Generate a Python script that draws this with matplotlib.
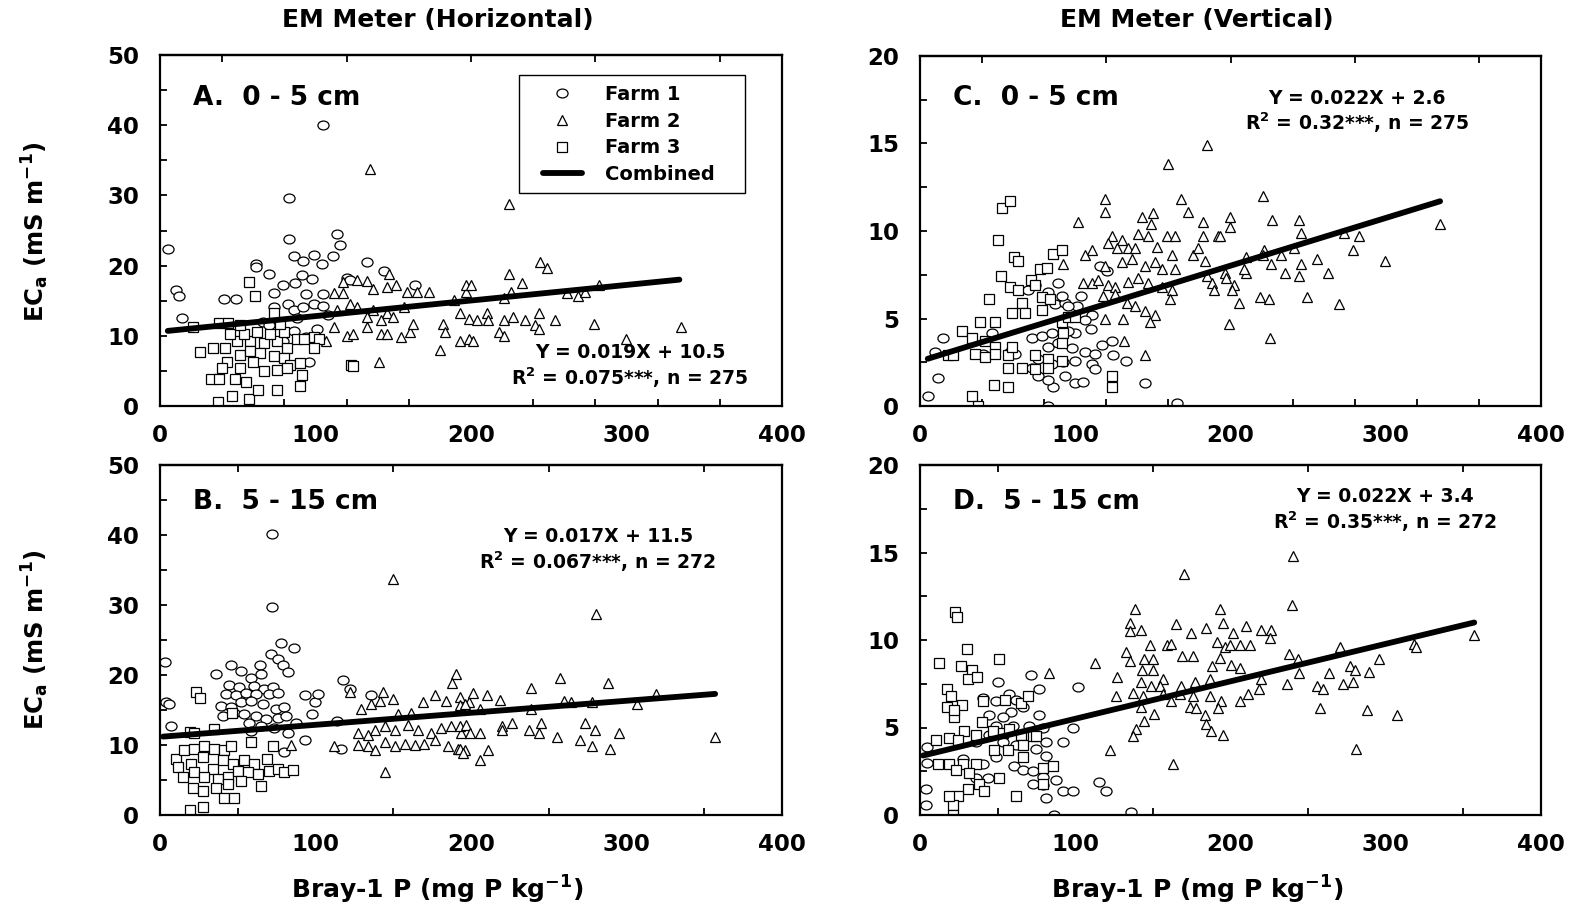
import matplotlib
matplotlib.use("Agg")
import matplotlib.pyplot as plt
from matplotlib.path import Path
from matplotlib.patches import Rectangle
import numpy as np

plt.rcParams['font.family'] = ['DejaVu Sans']
plt.rcParams['font.weight'] = 'bold'
plt.rcParams['mathtext.fontset'] = 'custom'
plt.rcParams['mathtext.rm'] = 'DejaVu Sans:bold'
plt.rcParams['mathtext.it'] = 'DejaVu Sans:bold'
plt.rcParams['mathtext.default'] = 'rm'

# ---- Panel A : horizontal, 0-5 cm ----
a_f1_x = [5, 10, 12, 14, 105, 83, 83, 114, 116, 111, 86, 92, 99, 104, 62, 62, 70, 133, 144, 41, 49, 91, 98,
          87, 79, 73, 94, 105, 120, 122, 164, 82, 86, 92, 99, 73, 105, 86, 94, 96, 79, 66, 70, 88, 101, 108]
a_f1_y = [22.3, 16.5, 15.6, 12.5, 40, 29.7, 23.8, 24.5, 23, 21.4, 21.4, 20.6, 21.5, 20.2, 20.2, 19.8, 18.8,
          20.5, 19.3, 15.3, 15.3, 18.6, 18.1, 17.5, 17.2, 16.1, 15.9, 16, 18.3, 18, 17.3, 14.6, 13.7, 14.1,
          14.6, 14.1, 14.2, 10.7, 9.8, 6.3, 9.3, 12, 11.5, 12.5, 11, 13]
a_f2_x = [135, 147, 118, 127, 133, 112, 118, 122, 137, 146, 152, 159, 165, 173, 182, 183, 180, 189, 196.5,
          133, 142, 146, 155, 161, 120, 124, 107, 112, 141, 137, 146, 157, 163, 127, 133, 142, 150, 114,
          224.6, 244.3, 249, 224.6, 233, 226, 221, 197, 200, 193, 199, 204, 210, 211, 221, 227, 235, 241,
          244, 244, 254, 218, 221, 199, 201, 193, 262, 269, 273, 282, 279, 300, 335]
a_f2_y = [33.7, 18.8, 17.6, 18, 17.8, 16.1, 16.1, 14.6, 16.6, 17, 17.3, 16.3, 16.3, 16.3, 11.7, 10.5, 8,
          15.1, 16.3, 11.2, 10.2, 10.2, 9.8, 10.5, 10, 10.2, 9.3, 11.2, 6.3, 13.7, 13.2, 14.1, 11.7, 14.1,
          12.7, 12.2, 12.7, 13.7,
          28.8, 20.5, 19.6, 18.8, 17.5, 16.2, 15.4, 17.2, 17.2, 13.2, 12.4, 12.2, 13.2, 12.2, 12.2, 12.7,
          12.2, 11.5, 13.2, 11, 12.2, 10.5, 10, 9.5, 9.3, 9.3, 16.1, 15.6, 16.3, 17.3, 11.7, 9.5, 11.2]
a_f3_x = [57, 61, 73, 21, 38, 44, 26, 33, 38, 37, 46, 57, 48, 55, 63, 75, 90, 91, 123, 124, 34.4, 41.9, 49.4,
          58, 66.6, 75.2, 81.6, 88, 92.4, 98.8, 102, 43, 51.5, 58, 64.4, 73, 79.5, 83.8, 90.2, 60, 66.6, 75.2,
          39.7, 51.5, 81.6, 45, 53.7, 62.3, 70.9, 79.5, 98.8, 51.5, 77.3]
a_f3_y = [17.6, 15.6, 13.2, 11.2, 11.8, 11.8, 7.7, 3.9, 3.8, 0.6, 1.4, 1, 3.9, 3.4, 2.3, 2.3, 2.9, 4.4, 5.9,
          5.7, 8.3, 8.3, 9.3, 9.3, 9.0, 9.3, 8.3, 9.5, 9.5, 9.8, 9.5, 6.3, 7.3, 7.8, 7.6, 7.1, 6.8, 5.9, 6.1,
          6.3, 5.0, 5.1, 5.4, 5.4, 5.4, 10.2, 10.2, 10.5, 10.2, 10.5, 8.3, 11.5, 11.7]
a_fit_x = [5, 334]
a_fit_y = [10.7, 18.0]

# ---- Panel B : horizontal, 5-15 cm ----
b_f1_x = [72, 72, 78, 86, 71.5, 75.8, 79, 82, 3, 45.7, 36, 52, 58.6, 64.6, 65, 117.6, 44.6, 51, 60.7, 67,
          72.5, 42.5, 49, 55, 61.8, 70, 75.8, 39, 45.7, 52, 58.6, 66, 74.7, 80, 40.3, 47.9, 54.3, 61.8, 68.2,
          75.8, 81, 93, 99.4, 101.5, 98, 87.5, 93, 114, 116.5, 3.9, 6, 7, 57.5, 65, 73.6, 82, 80, 58.6, 122, 136]
b_f1_y = [40.1, 29.7, 24.6, 23.8, 23, 22.3, 21.4, 20.5, 21.9, 21.5, 20.2, 20.6, 19.6, 21.4, 20.2, 19.3, 18.6,
          18.3, 18.5, 18, 18.3, 17.3, 17.1, 17.5, 17.3, 17.3, 17.5, 15.6, 15.4, 16.1, 16.3, 15.9, 15.1, 15.4,
          14.1, 14.6, 14.4, 14.1, 13.7, 13.9, 14.1, 17.1, 16.1, 17.3, 14.4, 13.2, 10.7, 13.4, 9.5, 16.1, 15.9,
          12.7, 13.2, 12.7, 12.4, 11.7, 9, 12, 18, 17.1]
b_f2_x = [149.8, 122.5, 111.8, 84, 144.4, 190.5, 187.8, 129.4, 135.8, 141.2, 143.3, 149.8, 153, 161.6, 169,
          176.6, 184, 192.7, 199, 127.3, 133.7, 138, 144.4, 150.9, 159.4, 165.9, 174.5, 181, 187.3, 193.8,
          127.3, 133.7, 138, 144.4, 150.9, 157.3, 163.7, 170, 176.6, 185.2, 191.6, 196,
          280.3, 257, 288, 238.3, 201.5, 210, 218.6, 193, 196, 205.8, 238.6, 260, 264, 277.8, 306.9, 318.7,
          193, 197, 199.3, 205.8, 220, 226.5, 220, 237.4, 244.8, 243.7, 255, 273, 280, 295, 270, 278, 289.6,
          193, 195, 211, 206, 357]
b_f2_y = [33.7, 17.6, 9.9, 10, 6.1, 20.2, 18.8, 15.2, 15.9, 16.3, 17.6, 16.6, 14.4, 14.6, 16.1, 17.1, 16.3,
          16.8, 16.1, 11.7, 11.5, 12.2, 12.7, 12.2, 12.9, 12.2, 11.7, 12.4, 12.7, 11.7, 10, 9.8, 9.3, 10.5,
          9.8, 10.2, 10, 10.2, 10.7, 9.8, 9.5, 9.3,
          28.7, 19.6, 18.8, 18.1, 17.5, 17.2, 16.5, 15.7, 15.9, 15.1, 15.1, 16.3, 16.2, 16.1, 15.9, 17.3,
          12.7, 12.9, 11.7, 11.7, 12.7, 13.2, 12.2, 12.2, 13.2, 11.7, 11.2, 13.2, 12.2, 11.7, 10.7, 9.9, 9.5,
          9.5, 8.8, 9.3, 7.9, 11.1]
b_f3_x = [23.2, 26, 46, 35, 19, 22, 58.6, 72.5, 69, 10.3, 15.7, 22, 28.5, 35, 41.4, 45.7, 11.4, 20, 27.5,
          33.9, 40.3, 46.8, 54.3, 60.7, 14.6, 22.1, 28.5, 37.1, 43.6, 50, 56.4, 62.9, 70.4, 75.8, 80, 85.4,
          21, 27.5, 36, 43.6, 52, 65, 41.4, 47.9, 19.5, 27.5]
b_f3_y = [17.6, 16.7, 14.6, 12.3, 11.8, 11.7, 10.5, 9.8, 8, 8, 9.3, 9.5, 9.8, 9.5, 9.3, 9.8, 6.8, 7.3, 8.3,
          6.6, 7.8, 7.3, 7.8, 7.3, 5.4, 6.1, 5.4, 5.1, 5.4, 6.3, 6.1, 5.9, 6.3, 6.6, 6.1, 6.4, 3.9, 3.4, 3.9,
          4.4, 4.9, 4.1, 2.4, 2.5, 0.7, 1.2]
b_fit_x = [2, 357]
b_fit_y = [11.2, 17.3]

# ---- Panel C : vertical, 0-5 cm ----
c_f1_x = [5.4, 11.4, 9.6, 15, 40.8, 46.2, 58, 61.2, 69.8, 74, 89, 82.7, 87, 93.4, 101, 104, 116, 120.3,
          110.6, 106, 110, 99.9, 95.6, 72, 78.4, 84.8, 82.7, 89, 97.7, 106.3, 76.2, 84.8, 92.4, 99.9, 112.7,
          117, 123.5, 124.6, 110.6, 112.7, 72, 76.2, 85.9, 82.7, 93.4, 99.9, 105.2, 133, 145, 82.7, 165.4,
          95.6, 91.3]
c_f1_y = [0.6, 1.6, 3.1, 3.9, 3, 4.2, 3.1, 3, 6.6, 6.9, 7, 6.5, 5.8, 5.9, 5.7, 6.3, 8, 7.7, 5.2, 4.9, 4.4,
          4.2, 4.3, 3.9, 4, 4.2, 3.4, 3.6, 3.3, 3.1, 2.7, 2.4, 2.5, 2.6, 3, 3.5, 3.7, 2.9, 2.4, 2.1, 2.2, 1.7,
          1.1, 1.5, 1.7, 1.3, 1.4, 2.6, 1.3, 0, 0.2, 5.7, 6.3]
c_f2_x = [184.7, 160, 119.2, 119.2, 168, 101.6, 142.8, 150.3, 172.9, 148.8, 182.6, 123.5, 130, 140.7, 147.1,
          158.9, 164.3, 182.6, 192.2, 110.6, 121.3, 126.7, 134.2, 138.5, 152.5, 162.2, 176.1, 179.3, 92.4,
          106.3, 119.2, 130, 136.4, 145, 151.4, 155.7, 164.3, 183.6, 184.7, 105.2, 110.6, 114.9, 121.3, 125.6,
          134.2, 140.7, 147.1, 155.7, 162.2, 118.1, 125.6, 133.2, 138.5, 145, 151.4, 161.1, 119.2, 131, 148.2,
          131.7, 145, 187.9, 196.5,
          220.8, 199.8, 199.8, 193, 226.8, 243.9, 245.4, 210, 221.9, 220.8, 232.6, 241.2, 273.3, 282.5, 279,
          334.8, 299.7, 255.5, 245.4, 262.6, 226.1, 235.4, 243.9, 210, 209, 197.3, 202, 189.2, 200.9, 205.2,
          219.1, 225.1, 249, 270, 198.9, 225.5]
c_f2_y = [14.9, 13.8, 11.8, 11.1, 11.8, 10.5, 10.8, 11, 11.1, 10.4, 10.5, 9.7, 9.5, 9.8, 9.7, 9.7, 9.7, 9.7,
          9.7, 8.9, 9.3, 9, 9, 9, 9.1, 8.6, 8.6, 9, 8.1, 8.6, 8, 8.2, 8.4, 8, 8.2, 7.8, 7.8, 8.3, 7.4, 7, 7,
          7.2, 6.9, 6.8, 7.1, 7.3, 7, 6.8, 6.6, 6.3, 6.4, 5.9, 5.7, 5.4, 5.2, 6.1, 5, 5, 4.8, 3.7, 2.9, 7, 7.6,
          12, 10.8, 10.2, 9.7, 10.6, 10.6, 9.9, 8.5, 8.9, 8.6, 8.6, 9, 9.9, 9.7, 8.9, 10.4, 8.3, 8.4, 8.1,
          7.6, 8.1, 7.6, 7.4, 7.6, 7.8, 7.3, 6.9, 6.6, 6.6, 5.9, 6.2, 6.1, 6.2, 5.8, 4.7, 3.9]
c_f3_x = [52.6, 58, 50.5, 60.8, 63.4, 52.2, 85.5, 91.3, 71.5, 74, 77.3, 81.6, 44.5, 38.7, 48.3, 26.8, 33.7,
          41.9, 48.3, 58, 63.4, 65.5, 59, 67.7, 78.4, 83.8, 78.4, 91.3, 95.6, 99.9, 92.4, 91.3, 35.4, 41.9,
          48.3, 57, 59, 74, 82.7, 91.3, 57, 65.5, 47.9, 57, 33.3, 37.2, 123.5, 123.5, 18.3, 21.5, 74, 82.7]
c_f3_y = [11.3, 11.7, 9.5, 8.5, 8.3, 7.4, 8.7, 8.9, 7.2, 6.9, 7.8, 7.9, 6.1, 4.8, 4.8, 4.3, 3.9, 3.7, 3.4,
          6.8, 6.6, 5.9, 5.3, 5.3, 6.2, 6.1, 5.5, 4.8, 5.1, 5.1, 4.2, 3.6, 3, 2.8, 3, 2.9, 3.4, 2.9, 2.7, 2.6,
          2.2, 2.2, 1.2, 1.1, 0.6, 0, 1.7, 1.1, 2.9, 2.9, 2.1, 2.2]
c_fit_x = [5, 335]
c_fit_y = [2.7, 11.7]

# ---- Panel D : vertical, 5-15 cm ----
d_f1_x = [3.8, 3.8, 4.8, 4.8, 71.5, 50, 101.6, 76.9, 40.3, 48.9, 57.5, 61.8, 66.1, 58.6, 53.2, 76.9, 44.6,
          48.9, 59.7, 70.4, 79, 98.4, 36, 44.6, 53.2, 61.8, 74.7, 81.2, 81.2, 91.9, 40.3, 48.9, 60.8, 66.1,
          72.6, 79, 87.6, 79, 72.6, 81.2, 91.9, 98.4, 115.6, 119.9, 86.6, 136, 36, 27.4, 43.5]
d_f1_y = [1.5, 0.6, 3.9, 3, 8, 7.6, 7.3, 7.2, 6.7, 6.5, 6.9, 6.6, 6.2, 5.9, 5.6, 5.7, 5.7, 5.1, 5.1, 5.1, 5,
          5, 4.2, 4.6, 4.2, 4, 3.8, 4.2, 3.4, 4.2, 2.9, 3.3, 2.8, 2.6, 2.5, 2.2, 2, 1.7, 1.8, 1, 1.4, 1.4, 1.9,
          1.4, 0, 0.2, 2.1, 3.2, 2.1]
d_f2_x = [169.8, 138.2, 135, 142.5, 135, 165, 174.7, 184.4, 193, 148.3, 159, 161.8, 168.9, 175.8, 191.3,
          112.4, 83.3, 132.8, 135, 144, 150, 127, 143.1, 150.4, 156.5, 142.5, 148.9, 154.3, 126.3, 137.1,
          143.5, 156.5, 161.8, 167.2, 168.3, 175.8, 176.9, 186.6, 186.6, 142.5, 151, 144.6, 139.2, 137.1,
          173.7, 178, 183.3, 184.4, 187.6, 122.5, 162.9,
          240, 239.7, 195, 201.5, 210, 219.7, 226, 225.4, 196.2, 199.8, 205.8, 212.7, 270.5, 318.3, 319.8,
          356.9, 237.9, 243.2, 193, 188.3, 200, 205.8, 295.8, 276.9, 280.4, 289.4, 263.6, 243.9, 219.7,
          218.6, 236.2, 255.4, 259.7, 272.6, 278.6, 193.9, 205.8, 211.1, 191.8, 195, 257.6, 287.9, 307, 280.8]
d_f2_y = [13.8, 11.8, 11, 10.6, 10.5, 10.9, 10.4, 10.7, 11.8, 9.7, 9.7, 9.8, 9.1, 9.1, 9.9, 8.7, 8.1, 9.3,
          8.8, 8.9, 8.9, 7.9, 8.3, 8.3, 7.8, 7.6, 7.4, 7.4, 6.8, 7, 6.8, 6.9, 6.5, 6.9, 7.4, 6.8, 7.6, 7.8,
          6.8, 6.2, 5.8, 5.4, 4.9, 4.5, 6.2, 6.1, 5.7, 5.2, 4.8, 3.7, 2.9,
          14.8, 12, 11, 10.4, 10.8, 10.6, 10.6, 10.1, 9.6, 9.7, 9.7, 9.7, 9.6, 9.8, 9.6, 10.3, 9.2, 8.9, 9,
          8.5, 8.6, 8.4, 8.9, 8.5, 8.3, 8.2, 8.1, 8.1, 7.8, 7.2, 7.5, 7.4, 7.2, 7.5, 7.6, 6.5, 6.5, 6.9, 6.1,
          4.6, 6.1, 6, 5.7, 3.8]
d_f3_x = [22.7, 23.6, 30, 12.4, 51, 26.3, 33.4, 30.6, 36.5, 17.7, 19.9, 27, 40.8, 55, 65, 69.4, 17.7, 22, 22,
          39.9, 46.8, 53.2, 57.5, 65, 72.6, 10.2, 18.8, 28.5, 36, 24.2, 11.3, 18.8, 27.4, 36, 47.8, 56.5,
          66.1, 66.1, 74.7, 79, 85.5, 23.1, 31.7, 38.2, 30.6, 24.2, 21, 21, 41.4, 51, 61.8, 79, 18.8]
d_f3_y = [11.6, 11.3, 9.5, 8.7, 8.9, 8.5, 8.3, 7.8, 7.9, 7.2, 6.8, 6.3, 6.5, 6.6, 6.4, 6.8, 6.2, 5.6, 6, 5.3,
          4.8, 4.7, 4.9, 4.6, 4.5, 4.3, 4.4, 4.8, 4.6, 4.3, 2.9, 2.9, 2.9, 2.9, 3.7, 3.7, 4, 3.3, 4.5, 2.7,
          2.8, 2.6, 2.4, 1.8, 1.5, 1.1, 0.6, 0, 1.4, 2.1, 1.1, 1.8, 1.1]
d_fit_x = [2, 357]
d_fit_y = [3.4, 11.0]

x_ticks = [0, 100, 200, 300, 400]
farm_labels = ['Farm 1', 'Farm 2', 'Farm 3', 'Combined']

W, H = 1574, 916
fig = plt.figure(figsize=(W / 100, H / 100), dpi=100)


def px_rect(l, t, r, b):
    return [l / W, 1 - b / H, (r - l) / W, (b - t) / H]


def fpos(x, y):
    return x / W, 1 - y / H


circ = Path.unit_circle()
ellipse = Path(circ.vertices * np.array([1.25, 1.0]), circ.codes)
mk = dict(linestyle='none', mfc='white', mec='black', mew=0.9)


def panel(rect, ymax, ymajor, yminor, xminor, xtop, f1, f2, f3, fit):
    ax = fig.add_axes(px_rect(*rect))
    h1, = ax.plot(f1[0], f1[1], marker=ellipse, ms=8, **mk)
    h2, = ax.plot(f2[0], f2[1], marker='^', ms=7.5, **mk)
    h3, = ax.plot(f3[0], f3[1], marker='s', ms=6.5, **mk)
    h4, = ax.plot(fit[0], fit[1], color='black', lw=4.2, solid_capstyle='round')
    ax.set_xlim(0, 400)
    ax.set_ylim(0, ymax)
    ax.set_xticks(x_ticks)
    ax.set_xticks(xminor, minor=True)
    ax.set_yticks(ymajor)
    ax.set_yticks(yminor, minor=True)
    ax.tick_params(axis='x', which='major', length=0, pad=13, labelsize=16.5)
    ax.tick_params(axis='x', which='minor', direction='in', length=5, width=1.3)
    ax.tick_params(axis='y', which='both', direction='in', length=5, width=1.3, pad=15, labelsize=16.5)
    for s in ax.spines.values():
        s.set_linewidth(1.6)
    sec = ax.secondary_xaxis('top')
    sec.set_xticks(xtop)
    sec.tick_params(direction='in', length=5, width=1.3, labeltop=False)
    sec.spines['top'].set_linewidth(1.6)
    return ax, [h1, h2, h3, h4]


ax_a, handles = panel((160, 55, 782, 406), 50, np.arange(0, 51, 10), np.arange(5, 50, 10),
                      np.arange(40, 400, 40), [40, 120, 200, 280, 360],
                      (a_f1_x, a_f1_y), (a_f2_x, a_f2_y), (a_f3_x, a_f3_y), (a_fit_x, a_fit_y))
ax_b, _ = panel((160, 465, 782, 815), 50, np.arange(0, 51, 10), np.arange(5, 50, 10),
                np.arange(50, 400, 50), [50, 150, 250, 350],
                (b_f1_x, b_f1_y), (b_f2_x, b_f2_y), (b_f3_x, b_f3_y), (b_fit_x, b_fit_y))
ax_c, _ = panel((920, 56, 1541, 406), 20, np.arange(0, 21, 5), np.arange(2.5, 20, 5),
                np.arange(40, 400, 40), [40, 120, 200, 280, 360],
                (c_f1_x, c_f1_y), (c_f2_x, c_f2_y), (c_f3_x, c_f3_y), (c_fit_x, c_fit_y))
ax_d, _ = panel((920, 465, 1541, 815), 20, np.arange(0, 21, 5), np.arange(2.5, 20, 5),
                np.arange(50, 400, 50), [50, 150, 250, 350],
                (d_f1_x, d_f1_y), (d_f2_x, d_f2_y), (d_f3_x, d_f3_y), (d_fit_x, d_fit_y))

# legend contents without frame, box drawn separately (wider side padding)
ax_a.legend(handles, farm_labels, loc='upper left', bbox_to_anchor=fpos(534, 76),
            bbox_transform=fig.transFigure, frameon=False, fontsize=14,
            handlelength=2.0, handletextpad=1.2, labelspacing=0.4, borderpad=0.45, borderaxespad=0)
fig.add_artist(Rectangle(fpos(519, 193), 226 / W, 118 / H, transform=fig.transFigure,
                         fill=False, lw=1, ec='black'))

# titles and axis labels
fig.text(*fpos(438, 20), 'EM Meter (Horizontal)', ha='center', va='center', fontsize=18)
fig.text(*fpos(1197, 20), 'EM Meter (Vertical)', ha='center', va='center', fontsize=18)
for yc in (232, 640):
    fig.text(*fpos(35, yc), 'EC$_{a}$ (mS m$^{-1}$)', ha='center', va='center', rotation=90, fontsize=17.5)
for xc in (437, 1197):
    fig.text(*fpos(xc, 890), 'Bray-1 P (mg P kg$^{-1}$)', ha='center', va='center', fontsize=18)

# panel labels
fig.text(*fpos(193, 98), 'A.  0 - 5 cm', ha='left', va='center', fontsize=19)
fig.text(*fpos(953, 98), 'C.  0 - 5 cm', ha='left', va='center', fontsize=19)
fig.text(*fpos(193, 502), 'B.  5 - 15 cm', ha='left', va='center', fontsize=19)
fig.text(*fpos(953, 502), 'D.  5 - 15 cm', ha='left', va='center', fontsize=19)

# regression equations
eqs = [(630, 353, 'Y = 0.019X + 10.5', 'R$^{2}$ = 0.075***, n = 275'),
       (598, 537, 'Y = 0.017X + 11.5', 'R$^{2}$ = 0.067***, n = 272'),
       (1357, 98, 'Y = 0.022X + 2.6', 'R$^{2}$ = 0.32***, n = 275'),
       (1385, 497, 'Y = 0.022X + 3.4', 'R$^{2}$ = 0.35***, n = 272')]
for xc, yc, l1, l2 in eqs:
    fig.text(*fpos(xc, yc), l1, ha='center', va='center', fontsize=13.5)
    fig.text(*fpos(xc, yc + 25), l2, ha='center', va='center', fontsize=13.5)

fig.savefig('out.png', dpi=100)
